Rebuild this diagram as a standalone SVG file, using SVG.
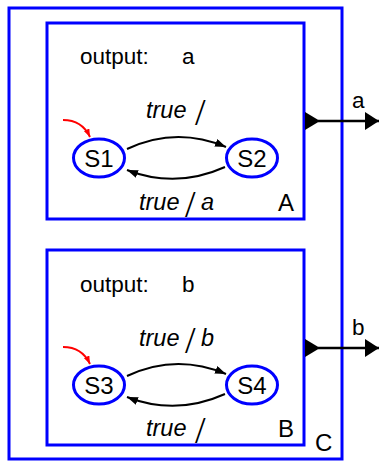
<svg xmlns="http://www.w3.org/2000/svg" width="379" height="462" viewBox="0 0 379 462">
<style>
.box{fill:none;stroke:#0000ff;stroke-width:3}
.st{fill:#ffffff;stroke:#0000ff;stroke-width:3}
.t{font-family:"Liberation Sans",Arial,sans-serif;font-size:22.5px;fill:#000}
.it{font-family:"Liberation Sans",Arial,sans-serif;font-size:23.5px;font-style:italic;fill:#000}
.sl{font-family:"Liberation Sans",Arial,sans-serif;font-size:24px;fill:#000;text-anchor:middle}
.big{font-family:"Liberation Sans",Arial,sans-serif;font-size:24px;fill:#000}
.sla{font-family:"Liberation Serif","Times New Roman",serif;font-size:38px;fill:#000}
.edge{fill:none;stroke:#000;stroke-width:2}
.port{fill:none;stroke:#000;stroke-width:2.5}
.init{fill:none;stroke:#ff0000;stroke-width:2}
</style>
<defs>
<marker id="ah" viewBox="0 0 11 8" refX="11" refY="4" markerWidth="11" markerHeight="8" markerUnits="userSpaceOnUse" orient="auto">
<path d="M0,0 L11,4 L0,8 Z" fill="#000"/>
</marker>
<marker id="rh" viewBox="0 0 8 6" refX="8" refY="3" markerWidth="8" markerHeight="6" markerUnits="userSpaceOnUse" orient="auto">
<path d="M0,0 L8,3 L0,6 Z" fill="#ff0000"/>
</marker>
<marker id="ph" viewBox="0 0 14 18" refX="14" refY="9" markerWidth="14" markerHeight="18" markerUnits="userSpaceOnUse" orient="auto">
<path d="M0,0 L14,9 L0,18 Z" fill="#000"/>
</marker>
</defs>
<g id="C">
<rect class="box" x="9" y="8" width="333" height="451"/>
<text class="big" x="315" y="451">C</text>
</g>
<g id="A">
<rect class="box" x="47" y="23" width="257" height="196"/>
<text class="t" x="80" y="64">output: <tspan x="182">a</tspan></text>
<text class="big" x="278" y="211">A</text>
</g>
<g id="B">
<rect class="box" x="47" y="250" width="257" height="195"/>
<text class="t" x="80" y="292">output: <tspan x="182">b</tspan></text>
<text class="big" x="278" y="437">B</text>
</g>
<g id="S1">
<ellipse class="st" cx="99" cy="158" rx="25.5" ry="19"/>
<text class="sl" x="99" y="167">S1</text>
</g>
<g id="S2">
<ellipse class="st" cx="252" cy="158" rx="25.5" ry="19"/>
<text class="sl" x="252" y="167">S2</text>
</g>
<g id="S3">
<ellipse class="st" cx="99" cy="385" rx="25.5" ry="19"/>
<text class="sl" x="99" y="394">S3</text>
</g>
<g id="S4">
<ellipse class="st" cx="252" cy="385" rx="25.5" ry="19"/>
<text class="sl" x="252" y="394">S4</text>
</g>
<g id="connectors">
<path class="edge" d="M127,149 Q176,126 226,147" marker-end="url(#ah)"/>
<path class="edge" d="M225,167 Q176,189 127,170" marker-end="url(#ah)"/>
<path class="edge" d="M127,376 Q176,353 226,374" marker-end="url(#ah)"/>
<path class="edge" d="M225,394 Q176,416 127,397" marker-end="url(#ah)"/>
<path class="init" d="M63,120 Q82,120 90,137" marker-end="url(#rh)"/>
<path class="init" d="M63,347 Q82,347 90,364" marker-end="url(#rh)"/>
<path d="M305,112 L320,121 L305,130 Z" fill="#000"/>
<path class="port" d="M318,121 L379,121" marker-end="url(#ph)"/>
<path d="M305,339 L320,348 L305,357 Z" fill="#000"/>
<path class="port" d="M318,348 L379,348" marker-end="url(#ph)"/>
</g>
<g id="labels">
<text class="it" x="146" y="118">true</text><text class="sla" x="195" y="125">/</text>
<text class="it" x="139" y="210">true</text><text class="sla" x="185" y="217">/</text><text class="it" x="201" y="210">a</text>
<text class="it" x="139" y="346">true</text><text class="sla" x="185" y="353">/</text><text class="it" x="201" y="346">b</text>
<text class="it" x="146" y="436">true</text><text class="sla" x="195" y="443">/</text>
<text class="t" x="352" y="108">a</text>
<text class="t" x="352" y="335">b</text>
</g>
</svg>
